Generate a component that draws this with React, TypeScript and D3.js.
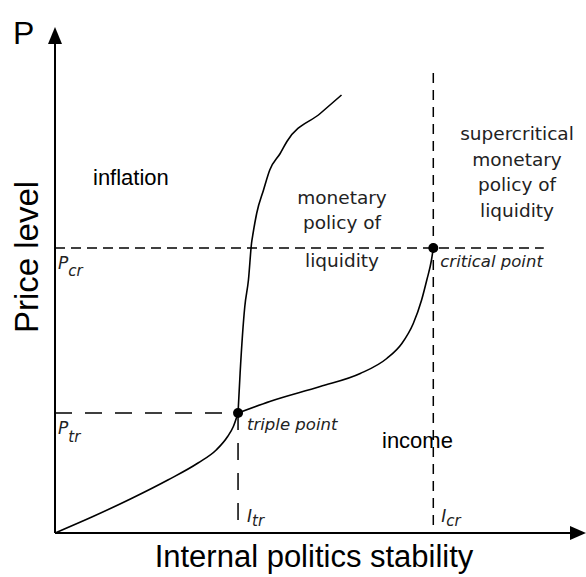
import * as d3 from 'd3';

// phase-diagram style chart: stability (x) vs price level (y), both 0..100
const sublimation: [number, number][] = [
  [0, 0], [7.3, 3.3], [14.5, 6.8], [21.7, 10.6], [27.5, 14.0], [31.0, 16.6],
  [33.2, 19.3], [34.3, 21.3], [35.2, 24],
];
const vaporization: [number, number][] = [
  [35.2, 24], [41.3, 26.3], [51, 29.3], [58.7, 31.9], [63.8, 34.9], [66.7, 37.9],
  [68.9, 41.9], [70.5, 46.6], [71.5, 50.6], [72.4, 54.6], [72.75, 57],
];
const melting: [number, number][] = [
  [35.2, 24], [35.6, 32], [36.5, 45.3], [37.2, 50.6], [37.8, 58], [38.1, 60],
  [38.8, 64], [40.1, 68.6], [41.3, 72.6], [43.3, 75.9], [44.6, 78.3], [51, 83.9], [55.1, 87.6],
];
const triplePoint: [number, number] = [35.2, 24];
const criticalPoint: [number, number] = [72.75, 57];
const criticalLineEnd = { x: 94, y: 92 };

const middleRegion = ['monetary', 'policy of', 'liquidity'];
const superRegion = ['supercritical', 'monetary', 'policy of', 'liquidity'];

const W = 586;
const H = 577;

export default function App() {
  const x = d3.scaleLinear().domain([0, 100]).range([55, 575]);
  const y = d3.scaleLinear().domain([0, 100]).range([533, 33]);

  const curve = d3
    .line<[number, number]>()
    .x((d) => x(d[0]))
    .y((d) => y(d[1]))
    .curve(d3.curveMonotoneX);

  const sans = '"Liberation Sans", Arial, sans-serif';
  const soft = '"DejaVu Sans", Verdana, sans-serif';
  const x0 = x(0);
  const y0 = y(0);

  return (
    <svg
      width={W}
      height={H}
      style={{ position: 'absolute', left: 0, top: 0, background: '#fff' }}
    >
      {/* dashed guides */}
      <g fill="none" stroke="#000" strokeWidth={1.5}>
        <line x1={x0} x2={x(triplePoint[0])} y1={y(triplePoint[1])} y2={y(triplePoint[1])} strokeDasharray="17,13" />
        <line x1={x(triplePoint[0])} x2={x(triplePoint[0])} y1={y(triplePoint[1])} y2={y0} strokeDasharray="17,13" />
        <line x1={x0} x2={x(criticalLineEnd.x)} y1={y(criticalPoint[1])} y2={y(criticalPoint[1])} strokeDasharray="10,6" />
        <line x1={x(criticalPoint[0])} x2={x(criticalPoint[0])} y1={y(criticalLineEnd.y)} y2={y0} strokeDasharray="10,7" />
      </g>

      {/* phase curves */}
      <g fill="none" stroke="#000" strokeWidth={1.6}>
        <path d={curve(sublimation) ?? ''} />
        <path d={curve(vaporization) ?? ''} />
        <path d={curve(melting) ?? ''} />
      </g>

      {/* axes */}
      <g stroke="#000" strokeWidth={2}>
        <line x1={x0} x2={x0} y1={y0} y2={40} />
        <line x1={x0} x2={572} y1={y0} y2={y0} />
      </g>
      <path d={`M${x0},27 L${x0 - 7},44 L${x0 + 7},44 Z`} fill="#000" />
      <path d={`M586,${y0} L570,${y0 - 7} L570,${y0 + 7} Z`} fill="#000" />

      {/* points */}
      {[triplePoint, criticalPoint].map((p, i) => (
        <circle key={i} cx={x(p[0])} cy={y(p[1])} r={5} fill="#000" />
      ))}

      {/* axis titles */}
      <text x={13} y={44} fontFamily={sans} fontSize={32}>P</text>
      <text
        transform="translate(38,257) rotate(-90)"
        textAnchor="middle"
        fontFamily={sans}
        fontSize={33}
      >
        Price level
      </text>
      <text x={314} y={567} textAnchor="middle" fontFamily={sans} fontSize={31}>
        Internal politics stability
      </text>

      {/* region labels */}
      <text x={93} y={185} fontFamily={sans} fontSize={22}>inflation</text>
      <text x={382} y={448} fontFamily={sans} fontSize={22}>income</text>

      <g fontFamily={soft} fontSize={18.5} fill="#222" textAnchor="middle">
        {middleRegion.map((t, i) => (
          <text key={t} x={342} y={[204, 229, 267][i]}>{t}</text>
        ))}
        {superRegion.map((t, i) => (
          <text key={'s' + i} x={517} y={140 + i * 25.5}>{t}</text>
        ))}
      </g>

      <g fontFamily={soft} fontStyle="italic" fontSize={16.5} fill="#222">
        <text x={x(criticalPoint[0]) + 7} y={267}>critical point</text>
        <text x={x(triplePoint[0]) + 9} y={430}>triple point</text>
      </g>

      {/* value labels */}
      <g fontFamily={soft} fontStyle="italic" fill="#222">
        <text x={58} y={y(criticalPoint[1]) + 21} fontSize={17}>
          P<tspan fontSize={15} dy={7}>cr</tspan>
        </text>
        <text x={58} y={y(triplePoint[1]) + 21} fontSize={17}>
          P<tspan fontSize={15} dy={8}>tr</tspan>
        </text>
        <text x={x(triplePoint[0]) + 9} y={522} fontSize={17}>
          I<tspan fontSize={15} dy={4}>tr</tspan>
        </text>
        <text x={x(criticalPoint[0]) + 8} y={522} fontSize={17}>
          I<tspan fontSize={15} dy={4}>cr</tspan>
        </text>
      </g>
    </svg>
  );
}
